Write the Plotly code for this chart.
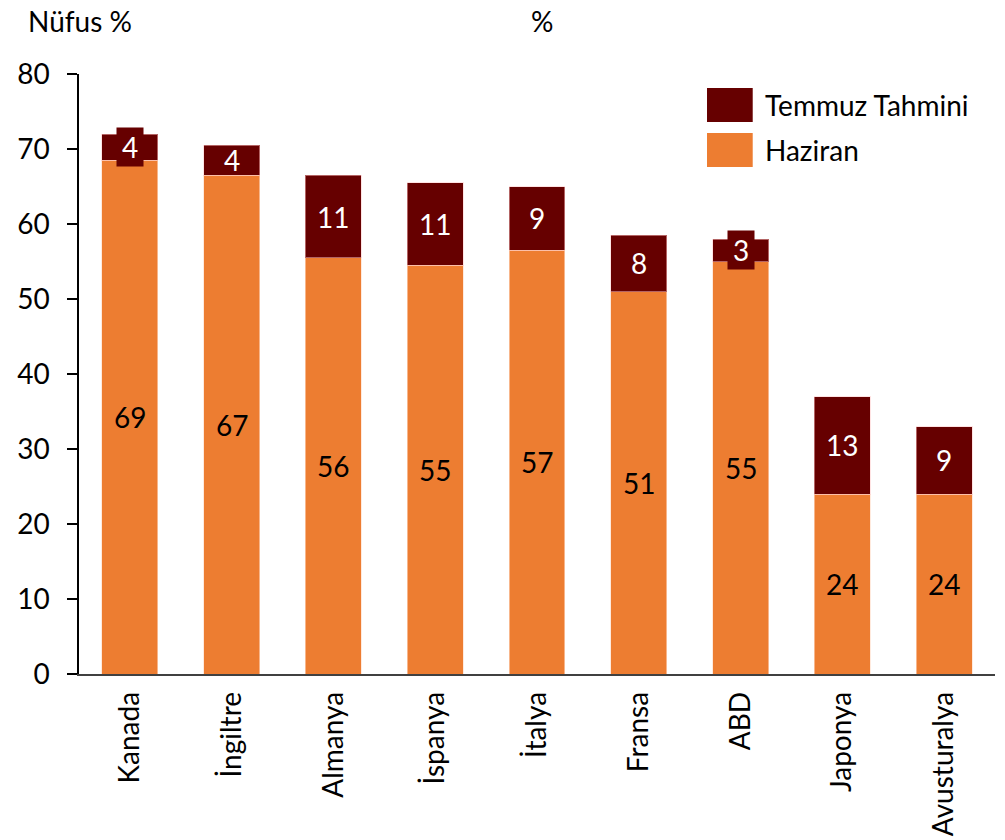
import plotly.graph_objects as go

countries = ["Kanada", "İngiltre", "Almanya", "İspanya", "İtalya", "Fransa", "ABD", "Japonya", "Avusturalya"]
haziran = [68.5, 66.5, 55.5, 54.5, 56.5, 51.0, 55.0, 24.0, 24.0]
temmuz = [3.5, 4.0, 11.0, 11.0, 8.5, 7.5, 3.0, 13.0, 9.0]
haziran_labels = ["69", "67", "56", "55", "57", "51", "55", "24", "24"]
temmuz_labels = ["4", "4", "11", "11", "9", "8", "3", "13", "9"]
yticks = [0, 10, 20, 30, 40, 50, 60, 70, 80]

ORANGE = "#ED7D31"
DARK = "#660000"
FONT = "Lato"
FS = 28

fig = go.Figure()
fig.add_trace(go.Bar(x=countries, y=haziran, name="Haziran", marker_color=ORANGE,
                     marker_line=dict(color="rgba(255,220,200,0.6)", width=1), width=0.55,
                     showlegend=False))
fig.add_trace(go.Bar(x=countries, y=temmuz, name="Temmuz Tahmini", marker_color=DARK,
                     marker_line=dict(color="rgba(255,200,200,0.5)", width=1), width=0.55,
                     showlegend=False))

ann = []
for c, h, t, hl, tl in zip(countries, haziran, temmuz, haziran_labels, temmuz_labels):
    ann.append(dict(x=c, y=h / 2, xref="x", yref="y", text=hl, showarrow=False,
                    font=dict(family=FONT, size=FS, color="black")))
    boxed = t < 3.8
    a = dict(x=c, y=h + t / 2, xref="x", yref="y", text=tl, showarrow=False,
             font=dict(family=FONT, size=FS, color="white"))
    if boxed:
        a.update(bgcolor=DARK, borderpad=4, width=18, height=30)
    ann.append(a)

# titles
ann.append(dict(x=-0.058, y=1.12, xref="paper", yref="paper", text="Nüfus %", showarrow=False,
                xanchor="left", yanchor="top", font=dict(family=FONT, size=FS, color="black")))
ann.append(dict(x=0.506, y=1.12, xref="paper", yref="paper", text="%", showarrow=False,
                xanchor="center", yanchor="top", font=dict(family=FONT, size=FS, color="black")))

# legend (drawn manually to match large swatches)
legend_items = [("Temmuz Tahmini", DARK), ("Haziran", ORANGE)]
shapes = []
for i, (name, col) in enumerate(legend_items):
    y0 = 0.92 - i * 0.075
    y1 = 0.9767 - i * 0.075
    shapes.append(dict(type="rect", xref="paper", yref="paper", x0=0.6856, x1=0.7355,
                       y0=y0, y1=y1, fillcolor=col, line=dict(width=0)))
    ann.append(dict(x=0.747, y=(y0 + y1) / 2, xref="paper", yref="paper", text=name, showarrow=False,
                    xanchor="left", yanchor="middle", font=dict(family=FONT, size=FS, color="black")))

fig.update_layout(
    barmode="stack",
    width=1005, height=840,
    margin=dict(l=79, r=10, t=74, b=166, autoexpand=False),
    paper_bgcolor="white", plot_bgcolor="white",
    font=dict(family=FONT, size=FS, color="black"),
    annotations=ann, shapes=shapes,
    xaxis=dict(range=[-0.5, 8.5], showline=True, linecolor="#404040", linewidth=1.5,
               ticks="", tickangle=-90, tickfont=dict(family=FONT, size=FS, color="black"),
               showgrid=False, zeroline=False, ticklabelstandoff=5),
    yaxis=dict(range=[0, 80], tickvals=yticks, showline=True, linecolor="black", linewidth=1.5,
               ticks="outside", ticklen=10, tickwidth=1.5, tickcolor="black",
               tickfont=dict(family=FONT, size=FS, color="black"),
               showgrid=False, zeroline=False, ticklabelstandoff=12),
)

fig.write_html("out.html", config={"displayModeBar": False},
               post_script="document.body.style.margin='0';document.body.style.overflow='hidden';")
